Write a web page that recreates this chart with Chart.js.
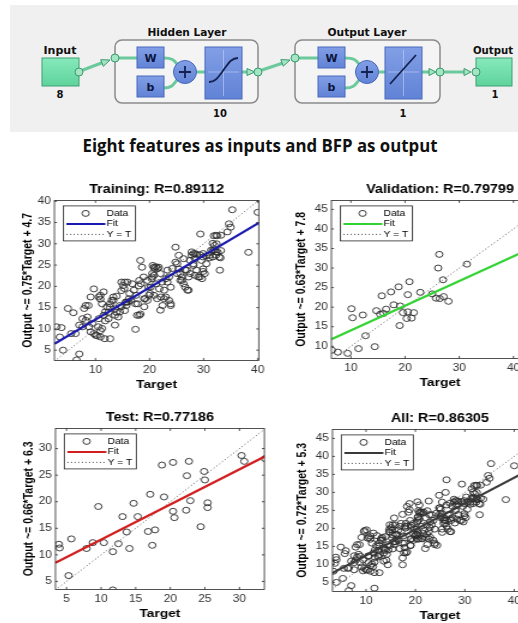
<!DOCTYPE html>
<html><head><meta charset="utf-8">
<script src="https://cdn.jsdelivr.net/npm/chart.js@4.4.0/dist/chart.umd.min.js"></script>
<style>
html,body{margin:0;padding:0;background:#fff;}
body{width:518px;height:623px;overflow:hidden;position:relative;}
.wrap{position:absolute;transform-origin:0 0;transform:scaleX(1.2);}
.wrap canvas{display:block;}
svg{position:absolute;left:0;top:0;}
</style></head><body>
<svg width="518" height="170" xmlns="http://www.w3.org/2000/svg">
<defs>
<linearGradient id="gg" x1="0" y1="0" x2="0" y2="1"><stop offset="0" stop-color="#86e9bb"/><stop offset="1" stop-color="#5fd39c"/></linearGradient>
<linearGradient id="bb" x1="0" y1="0" x2="0" y2="1"><stop offset="0" stop-color="#829fe6"/><stop offset="1" stop-color="#6183d6"/></linearGradient>
</defs>
<rect x="10" y="5" width="508" height="127" fill="#f0f0f0"/>
<g font-family="DejaVu Sans" font-weight="bold" font-size="10" fill="#111" text-anchor="middle">
<text x="60" y="54" textLength="33" lengthAdjust="spacingAndGlyphs">Input</text>
<text x="60" y="98">8</text>
<text x="187" y="36" textLength="79" lengthAdjust="spacingAndGlyphs">Hidden Layer</text>
<text x="367" y="36" textLength="79" lengthAdjust="spacingAndGlyphs">Output Layer</text>
<text x="220" y="117">10</text>
<text x="403" y="117">1</text>
<text x="493" y="54" textLength="40" lengthAdjust="spacingAndGlyphs">Output</text>
<text x="495" y="98">1</text>
</g>
<rect x="115" y="40" width="143" height="63" rx="7" fill="#f4f4f4" stroke="#8a8a8a" stroke-width="1.5"/>
<rect x="295" y="40" width="145" height="63" rx="7" fill="#f4f4f4" stroke="#8a8a8a" stroke-width="1.5"/>
<rect x="42" y="58" width="37" height="28" fill="url(#gg)" stroke="#3f9f73"/>
<rect x="476" y="58" width="36" height="28" fill="url(#gg)" stroke="#3f9f73"/>
<g fill="none" stroke="#6cc99c" stroke-width="3" stroke-linecap="round">
<path d="M83,70 L104,62"/>
<path d="M119,58 L137,58"/>
<path d="M164,58 C172,58 174,60 177,64"/>
<path d="M164,88 C172,88 174,84 177,80"/>
<path d="M196,72 L205,72"/>
<path d="M242,72 L248,72"/>
<path d="M262,70 L283,63"/>
<path d="M299,58 L318,58"/>
<path d="M345,58 C354,58 356,60 359,64"/>
<path d="M345,88 C354,88 356,84 359,80"/>
<path d="M378,72 L385,72"/>
<path d="M422,72 L430,72"/>
<path d="M444,72 L465,72"/>
</g>
<g fill="#a4e6c4" stroke="#3a9a70" stroke-width="1">
<polygon points="110,60 100.7,59.7 103.3,66.3"/>
<polygon points="255,72 247,68.5 247,75.5"/>
<polygon points="290,60 280.8,59.6 283.3,66.2"/>
<polygon points="436,72 429,68.5 429,75.5"/>
<polygon points="471,72 464,68.5 464,75.5"/>
<circle cx="79" cy="72" r="4"/>
<circle cx="115" cy="58" r="4"/>
<circle cx="258" cy="72" r="4"/>
<circle cx="295" cy="58" r="4"/>
<circle cx="440" cy="72" r="4"/>
<circle cx="476" cy="72" r="4"/>
</g>
<g fill="url(#bb)" stroke="#4a68bd" stroke-width="1">
<rect x="137" y="47" width="27" height="21"/>
<rect x="137" y="76" width="27" height="21"/>
<rect x="205" y="47" width="37" height="52"/>
<rect x="318" y="47" width="27" height="21"/>
<rect x="318" y="76" width="27" height="21"/>
<rect x="385" y="47" width="37" height="52"/>
<circle cx="185" cy="72" r="11.5"/>
<circle cx="367" cy="72" r="11.5"/>
</g>
<g stroke="#c9d6f5" stroke-width="0.8" opacity="0.7">
<path d="M223.5,50 L223.5,96 M208,72 L239,72"/>
<path d="M403.5,50 L403.5,96 M388,72 L419,72"/>
</g>
<g stroke="#15224f" stroke-width="1.8" fill="none">
<path d="M179,72 L191,72 M185,66 L185,78"/>
<path d="M361,72 L373,72 M367,66 L367,78"/>
<path d="M209,82 C216,82 219,76 223.5,70 C228,64 231,58 238,58"/>
<path d="M390,84 L416,55"/>
</g>
<g font-family="DejaVu Sans" font-weight="bold" font-size="11" fill="#0d1640" text-anchor="middle">
<text x="150.5" y="62">W</text>
<text x="150.5" y="91">b</text>
<text x="331.5" y="62">W</text>
<text x="331.5" y="91">b</text>
</g>
<text x="260" y="152" text-anchor="middle" font-family="Open Sans" font-weight="bold" font-size="18" fill="#111" textLength="355" lengthAdjust="spacingAndGlyphs">Eight features as inputs and BFP as output</text>
</svg>
<div class="wrap" id="w0"><canvas id="c0"></canvas></div>
<div class="wrap" id="w1"><canvas id="c1"></canvas></div>
<div class="wrap" id="w2"><canvas id="c2"></canvas></div>
<div class="wrap" id="w3"><canvas id="c3"></canvas></div>
<script>
// ---------- DATA ----------
const trainTarget = [2.8,3.7,4.0,3.4,4.9,5.9,5.5,6.3,7.0,6.5,7.0,7.6,7.9,8.2,8.5,8.7,8.8,9.1,9.4,9.7,10.0,10.5,10.6,10.9,11.2,10.6,10.9,11.5,11.8,12.1,12.4,11.7,12.7,12.7,13.0,13.3,13.6,13.9,13.6,14.2,14.5,14.8,14.8,15.4,15.3,15.7,16.0,16.3,16.6,17.4,17.5,17.8,18.1,18.1,18.3,18.6,18.4,19.0,19.0,19.6,19.9,20.2,20.5,20.8,20.8,20.8,21.4,21.7,22.0,22.0,22.3,22.7,23.0,23.3,23.6,23.9,23.9,24.8,25.1,25.4,25.7,26.0,26.3,26.6,26.9,27.2,27.0,27.5,27.8,28.1,28.4,28.7,29.3,29.4,29.6,29.9,30.2,29.9,30.5,31.1,31.7,32.0,32.3,32.4,32.6,32.9,33.2,33.0,34.7,35.0,35.3,38.3,40.0,
 15.6,16.2,15.9,16.8,17.1,17.4,17.7,18.0,18.3,18.9,19.2,19.6,19.8,20.1,20.4,20.5,20.6,20.9,21.2,21.5,21.2,21.8,22.1,22.4,22.7,23.0,23.3,23.6,23.9,24.2,24.8,25.1,25.4,25.7,26.0,26.3,26.6,27.2,27.5,27.8,28.1,28.4,
 7.6,8.2,9.1,9.7,10.9,11.5,11.2,10.3,10.9,11.8,12.4,12.7,13.3,13.6,13.9,14.5,14.8,15.1,15.4,15.7,
 34.4,31.9,32.5,33.2,31.7,31.4,32.0,32.3,28.1,28.7,29.3,29.9,30.5,31.1,31.7,32.3,33.1,28.4,29.0,29.9,29.7];
const trainOutput = [10.5,10.3,5.0,8.1,14.8,13.8,8.9,8.9,4.1,2.7,10.9,10.5,14.8,12.0,12.8,15.5,10.5,9.3,11.3,8.9,8.5,10.5,12.4,8.1,10.1,17.5,17.0,13.2,14.0,15.2,12.4,7.7,7.7,15.9,16.7,17.5,13.2,17.7,10.9,12.8,14.0,15.2,21.0,21.0,19.5,15.5,16.3,18.3,16.7,9.9,17.9,15.9,21.4,13.2,26.1,24.5,20.6,17.1,15.2,21.4,17.9,19.8,22.2,24.5,22.6,17.9,17.1,24.5,23.0,14.4,21.0,19.1,17.5,23.8,22.2,19.8,15.9,29.2,25.3,24.1,23.0,21.4,20.6,19.8,23.8,22.2,19.1,26.1,27.3,25.3,27.7,23.8,22.2,32.3,26.1,26.9,23.0,24.1,25.3,27.3,28.4,29.6,32.0,30.0,28.0,26.9,28.4,23.8,34.7,33.9,38.0,28.0,37.4,
 16.3,17.1,21.0,20.6,19.1,15.9,13.2,20.1,13.5,22.2,17.1,16.7,19.8,18.3,21.8,23.0,24.9,24.2,24.6,24.2,20.6,19.4,17.5,15.5,17.1,21.8,21.0,16.7,15.5,24.2,25.7,23.0,27.3,21.4,22.2,26.5,23.8,19.1,23.0,28.1,24.9,26.5,
 12.4,15.5,17.5,19.4,17.9,18.7,15.9,8.4,9.6,11.9,13.9,15.1,16.7,14.7,13.9,15.5,19.0,20.2,14.3,16.3,
 32.8,31.9,31.9,32.0,30.1,28.5,28.5,28.1,27.7,27.5,27.4,27.7,27.2,26.7,26.9,27.3,26.7,22.6,22.2,23.5,21.8];

const valTarget = [6.5,7.6,9.4,11.4,10.1,10.3,12.2,12.7,14.4,14.7,15.4,16.0,15.7,16.5,17.4,17.9,18.8,19.1,19.0,19.6,20.5,20.3,21.2,21.6,20.5,20.8,22.8,25.0,25.7,26.4,27.1,28.0,27.0,26.1,26.3,31.4];
const valOutput = [9.0,8.5,8.2,9.4,19.6,17.3,18.0,12.7,9.9,19.1,18.2,18.4,22.9,19.5,23.9,20.6,25.2,20.3,15.3,18.6,18.8,17.1,17.2,18.6,23.2,26.5,23.8,23.4,22.3,22.2,22.7,21.5,27.0,30.0,33.5,31.0];

const testTarget = [3.9,4.0,5.7,5.3,7.9,8.8,9.6,10.4,11.7,11.7,12.5,13.1,13.7,14.1,14.7,15.3,16.8,17.1,17.8,17.4,18.8,19.1,20.4,20.4,20.6,22.3,22.4,22.7,22.9,24.4,24.9,25.0,25.4,25.4,30.3,30.7,33.7];
const testOutput = [12.0,11.3,13.0,6.1,11.2,12.3,19.1,12.3,10.6,3.4,12.1,17.2,14.3,11.2,19.7,17.2,14.4,21.4,14.7,11.8,26.9,20.9,27.4,18.2,17.0,18.4,24.9,27.6,20.2,15.3,25.7,24.1,19.8,18.9,28.7,27.6,28.1];

const allTarget = trainTarget.concat(valTarget, testTarget);
const allOutput = trainOutput.concat(valOutput, testOutput);

// fit line end points (Target, Output) and axis limits
const trainFitT = [2.4, 40.2], trainFitO = [6.5, 34.9];
const valFitT = [6.4, 47.3], valFitO = [11.8, 37.6];
const testFitT = [3.4, 33.8], testFitO = [8.5, 28.6];
const allFitT = [2.5, 47.5], allFitO = [7.1, 39.5];

const trainXTicks = [10,20,30,40], trainYTicks = [5,10,15,20,25,30,35,40];
const valXTicks = [10,20,30,40], valYTicks = [10,15,20,25,30,35,40,45];
const testXTicks = [5,10,15,20,25,30], testYTicks = [5,10,15,20,25,30];
const allXTicks = [10,20,30,40], allYTicks = [5,10,15,20,25,30,35,40,45];

const titles = ['Training: R=0.89112','Validation: R=0.79799','Test: R=0.77186','All: R=0.86305'];
const yTitles = ['Output ~= 0.75*Target + 4.7','Output ~= 0.63*Target + 7.8','Output ~= 0.66*Target + 6.3','Output ~= 0.72*Target + 5.3'];
const legendLabels = ['Data','Fit','Y = T'];

// ---------- LAYOUT ----------
const S = 1.2, YW = 32, XH = 32, TH = 18.4, PR = 4;
Chart.defaults.font.family = "'Liberation Sans', Arial, sans-serif";

const framePlugin = {
  id: 'frame',
  afterDatasetsDraw(chart, args, opts) {
    const {ctx, chartArea: a, scales} = chart;
    ctx.save();
    ctx.strokeStyle = '#262626'; ctx.lineWidth = 0.8;
    ctx.strokeRect(a.left, a.top, a.right - a.left, a.bottom - a.top);
    ctx.beginPath();
    scales.x.ticks.forEach(t => {
      const p = scales.x.getPixelForValue(t.value);
      ctx.moveTo(p, a.bottom); ctx.lineTo(p, a.bottom - 2.5);
      ctx.moveTo(p, a.top); ctx.lineTo(p, a.top + 2.5);
    });
    scales.y.ticks.forEach(t => {
      const p = scales.y.getPixelForValue(t.value);
      ctx.moveTo(a.left, p); ctx.lineTo(a.left + 2.1, p);
      ctx.moveTo(a.right, p); ctx.lineTo(a.right - 2.1, p);
    });
    ctx.stroke();
    // legend box
    const lx = a.left + 7.5, ly = a.top + 5.5, lw = 60, lh = 35;
    ctx.fillStyle = '#fff'; ctx.fillRect(lx, ly, lw, lh);
    ctx.strokeStyle = '#262626'; ctx.lineWidth = 0.8; ctx.strokeRect(lx, ly, lw, lh);
    const rows = [ly + 7.5, ly + 18, ly + 28.5];
    ctx.strokeStyle = '#2a2a2a'; ctx.lineWidth = 0.9;
    ctx.beginPath(); ctx.arc(lx + 18.5, rows[0], 3, 0, Math.PI * 2); ctx.stroke();
    ctx.strokeStyle = opts.fitColor; ctx.lineWidth = 2;
    ctx.beginPath(); ctx.moveTo(lx + 2.5, rows[1]); ctx.lineTo(lx + 35, rows[1]); ctx.stroke();
    ctx.strokeStyle = '#555'; ctx.lineWidth = 1; ctx.setLineDash([1, 2]);
    ctx.beginPath(); ctx.moveTo(lx + 2.5, rows[2]); ctx.lineTo(lx + 35, rows[2]); ctx.stroke();
    ctx.setLineDash([]);
    ctx.fillStyle = '#000'; ctx.font = "8.5px 'Liberation Sans', Arial, sans-serif";
    ctx.textBaseline = 'middle'; ctx.textAlign = 'left';
    legendLabels.forEach((s, i) => ctx.fillText(s, lx + 36, rows[i]));
    ctx.restore();
  }
};

function makeChart(i, box, T, O, fitT, fitO, xr, yr, xt, yt, fitColor, yTitlePad) {
  const wrap = document.getElementById('w' + i), cv = document.getElementById('c' + i);
  const areaW = (box.x1 - box.x0) / S, areaH = box.y1 - box.y0;
  const Wu = Math.ceil(YW + areaW + PR), H = Math.ceil(TH + areaH + XH);
  const pr = Wu - YW - areaW, pb = H - TH - areaH - XH;
  wrap.style.left = (box.x0 - S * YW) + 'px';
  wrap.style.top = (box.y0 - TH) + 'px';
  cv.width = Wu; cv.height = H;
  cv.style.width = Wu + 'px'; cv.style.height = H + 'px';
  const lo = Math.min(xr[0], yr[0]), hi = Math.max(xr[1], yr[1]);
  new Chart(cv, {
    type: 'scatter',
    data: { datasets: [
      { type: 'line', data: fitT.map((t, k) => ({x: t, y: fitO[k]})), borderColor: fitColor, borderWidth: 2.2, pointRadius: 0, fill: false, order: 0, clip: 0 },
      { type: 'line', data: [{x: lo, y: lo}, {x: hi, y: hi}], borderColor: '#555', borderWidth: 1, borderDash: [1, 2.2], pointRadius: 0, fill: false, order: 1, clip: 0 },
      { type: 'scatter', data: T.map((t, k) => ({x: t, y: O[k]})), pointStyle: 'circle', pointRadius: 3, pointBorderWidth: 0.9, borderColor: '#2a2a2a', backgroundColor: 'rgba(0,0,0,0)', order: 2 }
    ]},
    options: {
      responsive: false, animation: false, devicePixelRatio: 1,
      layout: { padding: { left: 0, top: 0, right: pr, bottom: pb } },
      plugins: {
        legend: { display: false }, tooltip: { enabled: false },
        title: { display: true, text: titles[i], color: '#000', fullSize: false, font: { size: 12, weight: 'bold' }, padding: { top: 0, bottom: 4 } },
        frame: { fitColor: fitColor }
      },
      scales: {
        x: { type: 'linear', position: 'bottom', min: xr[0], max: xr[1],
          grid: { display: false, drawTicks: false }, border: { display: false },
          ticks: { color: '#333', font: { size: 10 }, padding: 4, autoSkip: false, maxRotation: 0 },
          title: { display: true, text: 'Target', color: '#000', font: { size: 11.5, weight: 'bold' }, padding: { top: 0, bottom: 1 } },
          afterBuildTicks: s => { s.ticks = xt.map(v => ({value: v})); },
          afterFit: s => { s.height = XH; } },
        y: { type: 'linear', position: 'left', min: yr[0], max: yr[1],
          grid: { display: false, drawTicks: false }, border: { display: false },
          ticks: { color: '#333', font: { size: 10 }, padding: 3, autoSkip: false },
          title: { display: true, text: yTitles[i], color: '#000', font: { size: 10.5, weight: 'bold' }, padding: { top: yTitlePad, bottom: 0 } },
          afterBuildTicks: s => { s.ticks = yt.map(v => ({value: v})); },
          afterFit: s => { s.width = YW; } }
      }
    },
    plugins: [framePlugin]
  });
}

makeChart(0, {x0: 54, x1: 264, y0: 200, y1: 360}, trainTarget, trainOutput, trainFitT, trainFitO, [2.4, 40.2], [2.6, 40.2], trainXTicks, trainYTicks, '#1a1ab0', 4);
makeChart(1, {x0: 331, x1: 549, y0: 200, y1: 358}, valTarget, valOutput, valFitT, valFitO, [6.4, 46.5], [6.9, 47.3], valXTicks, valYTicks, '#33d333', 0.7);
makeChart(2, {x0: 55, x1: 264, y0: 428, y1: 589}, testTarget, testOutput, testFitT, testFitO, [3.4, 33.6], [3.5, 33.8], testXTicks, testYTicks, '#d21e1e', 3.5);
makeChart(3, {x0: 332, x1: 548, y0: 429, y1: 591}, allTarget, allOutput, allFitT, allFitO, [3.2, 46.7], [2.5, 47.5], allXTicks, allYTicks, '#3a3a3a', 0.5);
</script>
</body></html>
